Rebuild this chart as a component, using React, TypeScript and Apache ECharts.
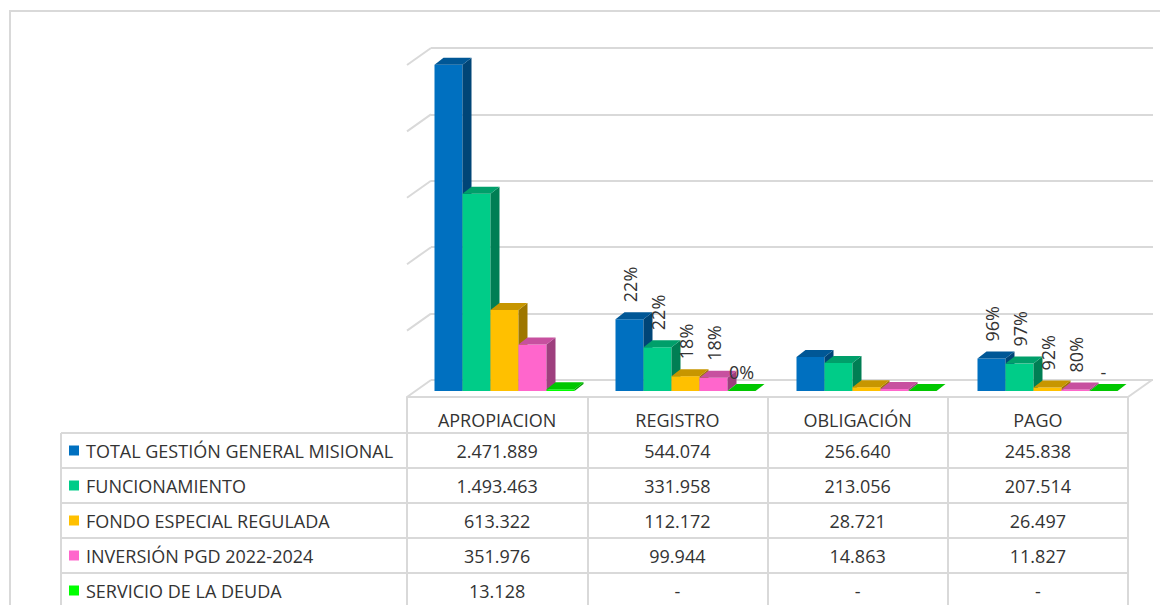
import React, { useEffect, useRef } from "react";
import * as echarts from "echarts";

const categories = ["APROPIACION", "REGISTRO", "OBLIGACIÓN", "PAGO"];
const seriesNames = [
  "TOTAL GESTIÓN GENERAL MISIONAL",
  "FUNCIONAMIENTO",
  "FONDO ESPECIAL REGULADA",
  "INVERSIÓN PGD 2022-2024",
  "SERVICIO DE LA DEUDA",
];
const totalGestion = [2471889, 544074, 256640, 245838];
const funcionamiento = [1493463, 331958, 213056, 207514];
const fondoEspecial = [613322, 112172, 28721, 26497];
const inversionPgd = [351976, 99944, 14863, 11827];
const servicioDeuda = [13128, 0, 0, 0];

const pctTotal = ["", "22%", "", "96%"];
const pctFuncionamiento = ["", "22%", "", "97%"];
const pctFondo = ["", "18%", "", "92%"];
const pctInversion = ["", "18%", "", "80%"];
const pctDeuda = ["", "0%", "", "-"];

const yTicks = [0, 500000, 1000000, 1500000, 2000000, 2500000];
const Y_MAX = 2500000;
const Y_INTERVAL = 500000;

const seriesColors = ["#0070C0", "#00CC88", "#FFC000", "#FF66CC", "#00FF00"];

const seriesValues = [totalGestion, funcionamiento, fondoEspecial, inversionPgd, servicioDeuda];
const seriesPct = [pctTotal, pctFuncionamiento, pctFondo, pctInversion, pctDeuda];

// layout constants
const FONT = "'Open Sans', 'Noto Sans', sans-serif";
const TEXT_COLOR = "#333333";
const LINE_COLOR = "#d9d9d9";
const DEPTH = [24, -17];
const BAR_W = 28;
const BAR_D = [9, -7];
const HEADER_H = 36;
const ROW_H = 35;
const TABLE_LEFT = 61;
const TABLE_RIGHT = 1128;
const TABLE_TOP = 397;

function shade(hex: string, f: number) {
  const n = parseInt(hex.slice(1), 16);
  const r = Math.round(((n >> 16) & 255) * f);
  const g = Math.round(((n >> 8) & 255) * f);
  const b = Math.round((n & 255) * f);
  return `rgb(${r},${g},${b})`;
}

function fmt(v: number) {
  if (v === 0) return "-";
  return String(v).replace(/\B(?=(\d{3})+(?!\d))/g, ".");
}

function buildOption() {
  const barSeries = seriesValues.map((vals, si) => ({
    type: "custom",
    name: seriesNames[si],
    xAxisIndex: 1,
    yAxisIndex: 1,
    z: 3 + si * 0.01,
    silent: true,
    data: vals.map((v, c) => [c, v]),
    renderItem: (params: any, api: any) => {
      const c = api.value(0);
      const v = api.value(1);
      const top = api.coord([c, v]);
      const base = api.coord([c, 0]);
      const x0 = top[0] - 2.5 * BAR_W + si * BAR_W;
      const x1 = x0 + BAR_W;
      const yT = top[1];
      const yB = base[1];
      const col = seriesColors[si];
      const children: any[] = [];
      if (yB - yT > 0.5) {
        children.push({
          type: "rect",
          shape: { x: x0, y: yT, width: BAR_W, height: yB - yT },
          style: { fill: col },
        });
        children.push({
          type: "polygon",
          shape: {
            points: [
              [x1, yT],
              [x1 + BAR_D[0], yT + BAR_D[1]],
              [x1 + BAR_D[0], yB + BAR_D[1]],
              [x1, yB],
            ],
          },
          style: { fill: shade(col, 0.62) },
        });
      }
      children.push({
        type: "polygon",
        shape: {
          points: [
            [x0, yT],
            [x1, yT],
            [x1 + BAR_D[0], yT + BAR_D[1]],
            [x0 + BAR_D[0], yT + BAR_D[1]],
          ],
        },
        style: { fill: shade(col, 0.78) },
      });
      return { type: "group", children };
    },
  }));

  const labelItems: { c: number; s: number; text: string }[] = [];
  seriesPct.forEach((arr, s) =>
    arr.forEach((t, c) => {
      if (t) labelItems.push({ c, s, text: t });
    })
  );

  const labelSeries = {
    type: "custom",
    xAxisIndex: 1,
    yAxisIndex: 1,
    z: 10,
    silent: true,
    data: labelItems.map((it) => [it.c, seriesValues[it.s][it.c]]),
    renderItem: (params: any, api: any) => {
      const it = labelItems[params.dataIndex];
      const top = api.coord([api.value(0), api.value(1)]);
      const cx = top[0] - 2.5 * BAR_W + it.s * BAR_W + BAR_W / 2;
      const rotated = it.s < seriesValues.length - 1;
      if (rotated) {
        return {
          type: "text",
          x: cx,
          y: top[1] - 17,
          rotation: Math.PI / 2,
          style: {
            text: it.text,
            align: "left",
            verticalAlign: "middle",
            font: `18px ${FONT}`,
            fill: TEXT_COLOR,
          },
        };
      }
      return {
        type: "text",
        x: cx,
        y: top[1] - 19,
        style: {
          text: it.text,
          align: "center",
          verticalAlign: "middle",
          font: `18px ${FONT}`,
          fill: TEXT_COLOR,
        },
      };
    },
  };

  const frameSeries = {
    type: "custom",
    xAxisIndex: 0,
    yAxisIndex: 0,
    z: 1,
    silent: true,
    data: yTicks.map((v) => [0, v]),
    renderItem: (params: any, api: any) => {
      const v = api.value(1);
      const p = api.coord([0, v]);
      const half = api.size([1, 0])[0] / 2;
      const x = p[0] - half;
      const children: any[] = [
        {
          type: "line",
          shape: { x1: x, y1: p[1], x2: x + DEPTH[0], y2: p[1] + DEPTH[1] },
          style: { stroke: LINE_COLOR, lineWidth: 2 },
        },
      ];
      if (v === 0) {
        const pr = api.coord([categories.length - 1, 0]);
        const xr = pr[0] + half;
        children.push({
          type: "line",
          shape: { x1: xr, y1: pr[1], x2: xr + DEPTH[0], y2: pr[1] + DEPTH[1] },
          style: { stroke: LINE_COLOR, lineWidth: 2 },
        });
      }
      return { type: "group", children };
    },
  };

  const tableItems: { r: number; c: number }[] = [];
  seriesValues.forEach((vals, r) => vals.forEach((_, c) => tableItems.push({ r, c })));

  const tableSeries = {
    type: "custom",
    xAxisIndex: 0,
    yAxisIndex: 0,
    z: 5,
    silent: true,
    data: tableItems.map((it) => [it.c, 0]),
    renderItem: (params: any, api: any) => {
      const it = tableItems[params.dataIndex];
      const p = api.coord([api.value(0), 0]);
      return {
        type: "text",
        x: p[0],
        y: p[1] + HEADER_H + ROW_H * (it.r + 0.5),
        style: {
          text: fmt(seriesValues[it.r][it.c]),
          align: "center",
          verticalAlign: "middle",
          font: `18px ${FONT}`,
          fill: TEXT_COLOR,
        },
      };
    },
  };

  const graphics: any[] = [
    {
      type: "rect",
      shape: { x: 10, y: 11, width: 1300, height: 800 },
      style: { fill: "none", stroke: LINE_COLOR, lineWidth: 2 },
      silent: true,
    },
    {
      type: "line",
      shape: { x1: TABLE_LEFT, y1: TABLE_TOP + HEADER_H, x2: TABLE_LEFT, y2: 700 },
      style: { stroke: LINE_COLOR, lineWidth: 2 },
      silent: true,
    },
  ];
  for (let r = 0; r < seriesNames.length; r++) {
    const yLine = TABLE_TOP + HEADER_H + ROW_H * r;
    graphics.push({
      type: "line",
      shape: { x1: TABLE_LEFT, y1: yLine, x2: TABLE_RIGHT, y2: yLine },
      style: { stroke: LINE_COLOR, lineWidth: 2 },
      silent: true,
    });
    const yc = yLine + ROW_H / 2;
    graphics.push({
      type: "rect",
      shape: { x: 69, y: yc - 5, width: 10, height: 10 },
      style: { fill: seriesColors[r] },
      silent: true,
    });
    graphics.push({
      type: "text",
      x: 86,
      y: yc,
      style: {
        text: seriesNames[r],
        align: "left",
        verticalAlign: "middle",
        font: `18px ${FONT}`,
        fill: TEXT_COLOR,
      },
      silent: true,
    });
  }

  return {
    animation: false,
    backgroundColor: "#ffffff",
    textStyle: { fontFamily: FONT },
    grid: [
      { left: 407, top: 65, width: 721, height: 332 },
      { left: 414, top: 61, width: 724, height: 330 },
      { left: 431, top: 48, width: 722, height: 332 },
    ],
    xAxis: [
      {
        gridIndex: 0,
        type: "category",
        data: categories,
        boundaryGap: true,
        axisLine: { show: true, lineStyle: { color: LINE_COLOR, width: 2 } },
        axisTick: { show: true, length: 215, interval: 0, lineStyle: { color: LINE_COLOR, width: 2 } },
        axisLabel: { margin: 14, fontSize: 18, fontFamily: FONT, color: TEXT_COLOR, interval: 0 },
        splitLine: { show: false },
      },
      { gridIndex: 1, type: "category", data: categories, show: false },
      { gridIndex: 2, type: "category", data: categories, show: false },
    ],
    yAxis: [
      { gridIndex: 0, type: "value", min: 0, max: Y_MAX, interval: Y_INTERVAL, show: false },
      { gridIndex: 1, type: "value", min: 0, max: Y_MAX, interval: Y_INTERVAL, show: false },
      {
        gridIndex: 2,
        type: "value",
        min: 0,
        max: Y_MAX,
        interval: Y_INTERVAL,
        axisLine: { show: false },
        axisTick: { show: false },
        axisLabel: { show: false },
        splitLine: { show: true, lineStyle: { color: LINE_COLOR, width: 2 } },
      },
    ],
    graphic: graphics,
    series: [frameSeries, ...barSeries, labelSeries, tableSeries],
  };
}

export default function App() {
  const ref = useRef<HTMLDivElement>(null);
  useEffect(() => {
    if (!ref.current) return;
    const chart = echarts.init(ref.current, undefined, { renderer: "svg" });
    chart.setOption(buildOption() as any);
    return () => chart.dispose();
  }, []);
  return (
    <div
      ref={ref}
      style={{ position: "fixed", left: 0, top: 0, width: 1160, height: 605, background: "#fff" }}
    />
  );
}
